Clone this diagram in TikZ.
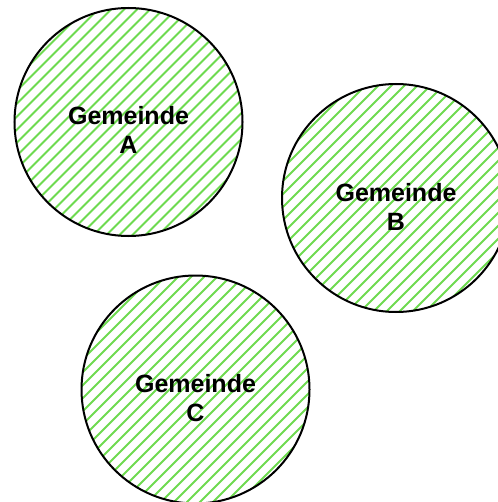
\documentclass[tikz,border=0pt]{standalone}
\usepackage{fontspec}
\setmainfont{Liberation Sans}
\definecolor{gruen}{RGB}{110,218,80}
\tikzset{
  gemeinde/.style={circle,draw=black,line width=2bp,minimum size=228bp,inner sep=0pt},
  schraffur/.style={gruen,line width=2bp},
  beschriftung/.style={align=center,font=\bfseries\fontsize{25bp}{29bp}\selectfont}
}
\begin{document}
\begin{tikzpicture}[x=1bp,y=-1bp]
\useasboundingbox (0,0) rectangle (498,502);
\coordinate (mA) at (128.5,122);
\coordinate (mB) at (396,198);
\coordinate (mC) at (195.5,389.5);
% hatching, 45 degrees
\foreach \m in {mA,mB,mC} {
  \begin{scope}
    \clip (\m) circle (114);
    \foreach \d in {-247,-234,...,247} {
      \draw[schraffur] ([xshift=\d bp]\m) ++(-130,130) -- ++(260,-260);
    }
  \end{scope}
}
\node[gemeinde] (A) at (mA) {};
\node[gemeinde] (B) at (mB) {};
\node[gemeinde] (C) at (mC) {};
\node[beschriftung] (tA) at ([yshift=-8bp]A.center) {Gemeinde\\A};
\node[beschriftung] (tB) at ([yshift=-9bp]B.center) {Gemeinde\\B};
\node[beschriftung] (tC) at ([yshift=-9bp]C.center) {Gemeinde\\C};
\end{tikzpicture}
\end{document}
